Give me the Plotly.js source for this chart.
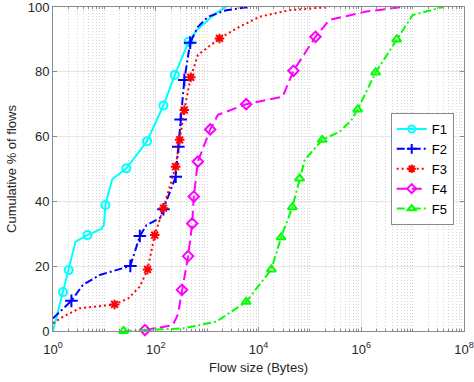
<!DOCTYPE html>
<html>
<head>
<meta charset="utf-8">
<script src="https://cdn.plot.ly/plotly-3.0.1.min.js"></script>
<style>html,body{margin:0;padding:0;background:#fff;}#chart{width:474px;height:382px;}</style>
</head>
<body>
<div id="chart"></div>
<script>
// ---- data (flow size in bytes, cumulative % of flows) ----
const seriesNames = ['F1', 'F2', 'F3', 'F4', 'F5'];

const f1LineX = [1, 1.57, 2.02, 2.75, 4.68, 8.51, 9.77, 10.5, 11.7, 14.3, 26.9, 67.6, 141, 234, 437, 661, 1047, 1514, 2344];
const f1LineY = [0, 12, 18.8, 27.6, 29.6, 31.4, 32.7, 38.9, 42, 46.9, 50.2, 58.6, 69.6, 79, 89.3, 93.2, 96, 98.2, 100];
const f1MarkX = [1.57, 2.02, 4.68, 10.5, 26.9, 67.6, 141, 234, 437];
const f1MarkY = [12, 18.8, 29.6, 38.9, 50.2, 58.6, 69.6, 79, 89.3];

const f2LineX = [1, 2.28, 3.8, 8.13, 22.9, 32, 49, 66.1, 120, 141, 245, 275, 305, 360, 468, 661, 1047, 2344, 6761];
const f2LineY = [3.9, 9.3, 14.2, 17.3, 19.4, 20.1, 29.3, 32.7, 34.8, 37.6, 47.6, 56.9, 65.3, 77.5, 89, 93.9, 97, 99, 100];
const f2MarkX = [2.28, 32, 49, 141, 245, 275, 305, 360, 468];
const f2MarkY = [9.3, 20.1, 29.3, 37.6, 47.6, 56.9, 65.3, 77.5, 89];

const f3LineX = [1, 1.57, 3.31, 8.13, 15.8, 28.8, 49, 69.2, 95.5, 141, 244, 292, 360, 479, 661, 1738, 4266, 10470, 39810, 239900];
const f3LineY = [2.4, 4.4, 7, 7.7, 8.2, 10, 13.7, 19, 29.6, 37.9, 50.7, 59, 68.2, 78.3, 85.2, 90.3, 93.9, 97, 99, 100];
const f3MarkX = [15.8, 69.2, 95.5, 141, 244, 292, 360, 479, 1738];
const f3MarkY = [8.2, 19, 29.6, 37.9, 50.7, 59, 68.2, 78.3, 90.3];

const f4LineX = [61.7, 214, 269, 324, 427, 513, 550, 661, 1148, 1622, 5754, 29510, 47860, 128800, 239900, 1259000, 6457000];
const f4LineY = [0.3, 1.8, 5, 12.7, 23.1, 33.2, 41.5, 52.3, 62.2, 66.7, 70, 72.3, 80.3, 90.8, 96, 98.6, 100];
const f4MarkX = [61.7, 324, 427, 513, 550, 661, 1148, 5754, 47860, 128800];
const f4MarkY = [0.3, 12.7, 23.1, 33.2, 41.5, 52.3, 62.2, 70, 80.3, 90.8];

const f5LineX = [23.7, 75.9, 339, 1514, 5754, 17780, 27540, 45710, 63100, 79430, 173800, 380200, 645700, 851100, 1905000, 4898000, 10000000, 38900000];
const f5LineY = [0, 0.3, 0.8, 2.9, 9, 19, 28.9, 38.2, 47.1, 52.8, 59, 61.5, 65.1, 68.4, 79.8, 90, 97.5, 100];
const f5MarkX = [23.7, 5754, 17780, 27540, 45710, 63100, 173800, 851100, 1905000, 4898000];
const f5MarkY = [0, 9, 19, 28.9, 38.2, 47.1, 59, 68.4, 79.8, 90];

const xTickVals = [1, 100, 10000, 1000000, 100000000];
const xTickText = ['10<sup>0</sup>', '10<sup>2</sup>', '10<sup>4</sup>', '10<sup>6</sup>', '10<sup>8</sup>'];
const yTickVals = [0, 20, 40, 60, 80, 100];

// ---- styles ----
const colors = ['#00ffff', '#0000ff', '#ff0000', '#ff00ff', '#00ff00'];
const dashes = ['solid', '8px,3px,2px,3px', '2px,3px', '10px,5px', '8px,3px,2px,3px'];
const symbols = ['circle-open', 'cross-thin-open', 'asterisk-open', 'diamond-open', 'triangle-up-open'];
const msizes = [8, 9, 8, 8, 8];

const lines = [[f1LineX, f1LineY], [f2LineX, f2LineY], [f3LineX, f3LineY], [f4LineX, f4LineY], [f5LineX, f5LineY]];
const marks = [[f1MarkX, f1MarkY], [f2MarkX, f2MarkY], [f3MarkX, f3MarkY], [f4MarkX, f4MarkY], [f5MarkX, f5MarkY]];

const traces = [];
for (let i = 0; i < 5; i++) {
  traces.push({
    x: lines[i][0], y: lines[i][1], type: 'scatter', mode: 'lines',
    line: {color: colors[i], width: 2, dash: dashes[i]},
    showlegend: false, hoverinfo: 'skip', cliponaxis: false
  });
  traces.push({
    x: marks[i][0], y: marks[i][1], type: 'scatter', mode: 'markers',
    marker: {symbol: symbols[i], size: msizes[i], color: colors[i], line: {color: colors[i], width: 2}},
    showlegend: false, cliponaxis: false
  });
}
for (let i = 0; i < 5; i++) {
  traces.push({
    x: [null], y: [null], type: 'scatter', mode: 'lines+markers', name: seriesNames[i],
    line: {color: colors[i], width: 2, dash: dashes[i]},
    marker: {symbol: symbols[i], size: 7, color: colors[i], line: {color: colors[i], width: 2}}
  });
}

const axisCommon = {
  showline: true, linecolor: '#8a8a8a', linewidth: 1, mirror: 'ticks',
  ticks: 'inside', ticklen: 4, tickcolor: '#8a8a8a',
  gridcolor: '#e6e6e6', gridwidth: 1, zeroline: false,
  tickfont: {size: 13, color: '#262626'}, ticklabeloverflow: 'allow'
};

const layout = {
  width: 474, height: 382,
  margin: {l: 53, r: 10, t: 7, b: 51},
  paper_bgcolor: '#ffffff', plot_bgcolor: '#ffffff',
  font: {family: '"Liberation Sans", Arial, sans-serif', size: 13, color: '#262626'},
  xaxis: Object.assign({}, axisCommon, {
    type: 'log', range: [0, 8], tickmode: 'array', tickvals: xTickVals, ticktext: xTickText,
    ticklabelstandoff: 6,
    minor: {tickmode: 'linear', tick0: 0, dtick: 'D1', showgrid: true, gridcolor: '#d4d4d4', griddash: '1px,2px', gridwidth: 1, ticks: 'inside', ticklen: 2, tickcolor: '#8a8a8a'},
    title: {text: 'Flow size (Bytes)', font: {size: 13, color: '#262626'}, standoff: 7}
  }),
  yaxis: Object.assign({}, axisCommon, {
    range: [0, 100], tickmode: 'array', tickvals: yTickVals,
    title: {text: 'Cumulative % of flows', font: {size: 13, color: '#262626'}, standoff: 8}
  }),
  legend: {
    x: 0.975, xanchor: 'right', y: 0.5, yanchor: 'middle',
    bgcolor: '#ffffff', bordercolor: '#8a8a8a', borderwidth: 1,
    font: {size: 13, color: '#000000'}, tracegroupgap: 0
  },
  showlegend: true
};

Plotly.newPlot('chart', traces, layout, {staticPlot: true, displayModeBar: false});
</script>
</body>
</html>
